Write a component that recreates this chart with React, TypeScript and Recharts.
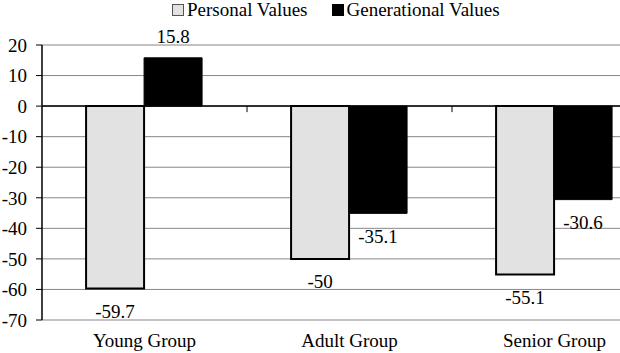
import React from 'react';
import { BarChart, Bar, XAxis, YAxis, CartesianGrid, ReferenceLine, Legend, LabelList } from 'recharts';

const categories = ['Young Group', 'Adult Group', 'Senior Group'];
const personalValues = [-59.7, -50, -55.1];
const generationalValues = [15.8, -35.1, -30.6];
const yTicks = [-70, -60, -50, -40, -30, -20, -10, 0, 10, 20];
const seriesNames = ['Personal Values', 'Generational Values'];

const data = categories.map((c, i) => ({
  name: c,
  personal: personalValues[i],
  generational: generationalValues[i],
}));

const FONT = "'Liberation Serif', 'DejaVu Serif', serif";

const renderLabel = (props: any) => {
  const { x, y, width, height, value } = props;
  const cx = x + width / 2;
  const top = Math.min(y, y + height);
  const bottom = Math.max(y, y + height);
  const ty = value >= 0 ? top - 21 : bottom + 23;
  return (
    <text x={cx} y={ty} textAnchor="middle" dominantBaseline="central" style={{ fontFamily: FONT, fontSize: 19 }} fill="#000">
      {value}
    </text>
  );
};

const ZeroLine = (props: any) => {
  const { x1, x2, y1 } = props;
  const n = categories.length;
  const step = (x2 - x1) / n;
  const ticks = [];
  for (let i = 1; i < n; i++) {
    const tx = x1 + step * i;
    ticks.push(<line key={i} x1={tx} x2={tx} y1={y1} y2={y1 + 6} stroke="#000" strokeWidth={1} />);
  }
  return (
    <g>
      <line x1={x1} x2={x2} y1={y1} y2={y1} stroke="#000" strokeWidth={1.5} />
      {ticks}
    </g>
  );
};

const LegendContent = () => (
  <div style={{ display: 'flex', alignItems: 'center', fontFamily: FONT, fontSize: 19, color: '#000', lineHeight: '20px', height: 20 }}>
    <span style={{ display: 'inline-block', width: 10, height: 10, background: '#e2e2e2', border: '1px solid #555', marginRight: 3 }} />
    <span>{seriesNames[0]}</span>
    <span style={{ display: 'inline-block', width: 10, height: 10, background: '#000', border: '1px solid #000', marginLeft: 24, marginRight: 3 }} />
    <span>{seriesNames[1]}</span>
  </div>
);

export default function App() {
  return (
    <div style={{ position: 'absolute', left: 0, top: 0, width: 620, height: 353, overflow: 'hidden', background: '#fff', fontFamily: FONT }}>
      <BarChart
        width={665}
        height={353}
        data={data}
        margin={{ top: 25, right: 8, bottom: 0, left: 0 }}
        barCategoryGap="21.5%"
        barGap={0}
        style={{ fontFamily: FONT }}
      >
        <CartesianGrid vertical={false} stroke="#878787" strokeWidth={1} />
        <XAxis
          dataKey="name"
          axisLine={false}
          tickLine={false}
          tickSize={0}
          tickMargin={14}
          height={33}
          tick={{ fontFamily: FONT, fontSize: 19, fill: '#000' }}
          interval={0}
        />
        <YAxis
          domain={[-70, 20]}
          ticks={yTicks}
          width={42}
          axisLine={{ stroke: '#000', strokeWidth: 1.5 }}
          tickLine={{ stroke: '#000' }}
          tickSize={6}
          tickMargin={9}
          tick={{ fontFamily: FONT, fontSize: 19, fill: '#000' }}
          interval={0}
        />
        <Legend verticalAlign="top" height={20} content={<LegendContent />} wrapperStyle={{ top: 0, left: 172, width: 'auto' }} />
        <Bar dataKey="personal" name={seriesNames[0]} fill="#e2e2e2" stroke="#000" strokeWidth={2} isAnimationActive={false}>
          <LabelList dataKey="personal" content={renderLabel} />
        </Bar>
        <Bar dataKey="generational" name={seriesNames[1]} fill="#000" stroke="#000" strokeWidth={1} isAnimationActive={false}>
          <LabelList dataKey="generational" content={renderLabel} />
        </Bar>
        <ReferenceLine y={0} shape={<ZeroLine />} />
      </BarChart>
    </div>
  );
}
